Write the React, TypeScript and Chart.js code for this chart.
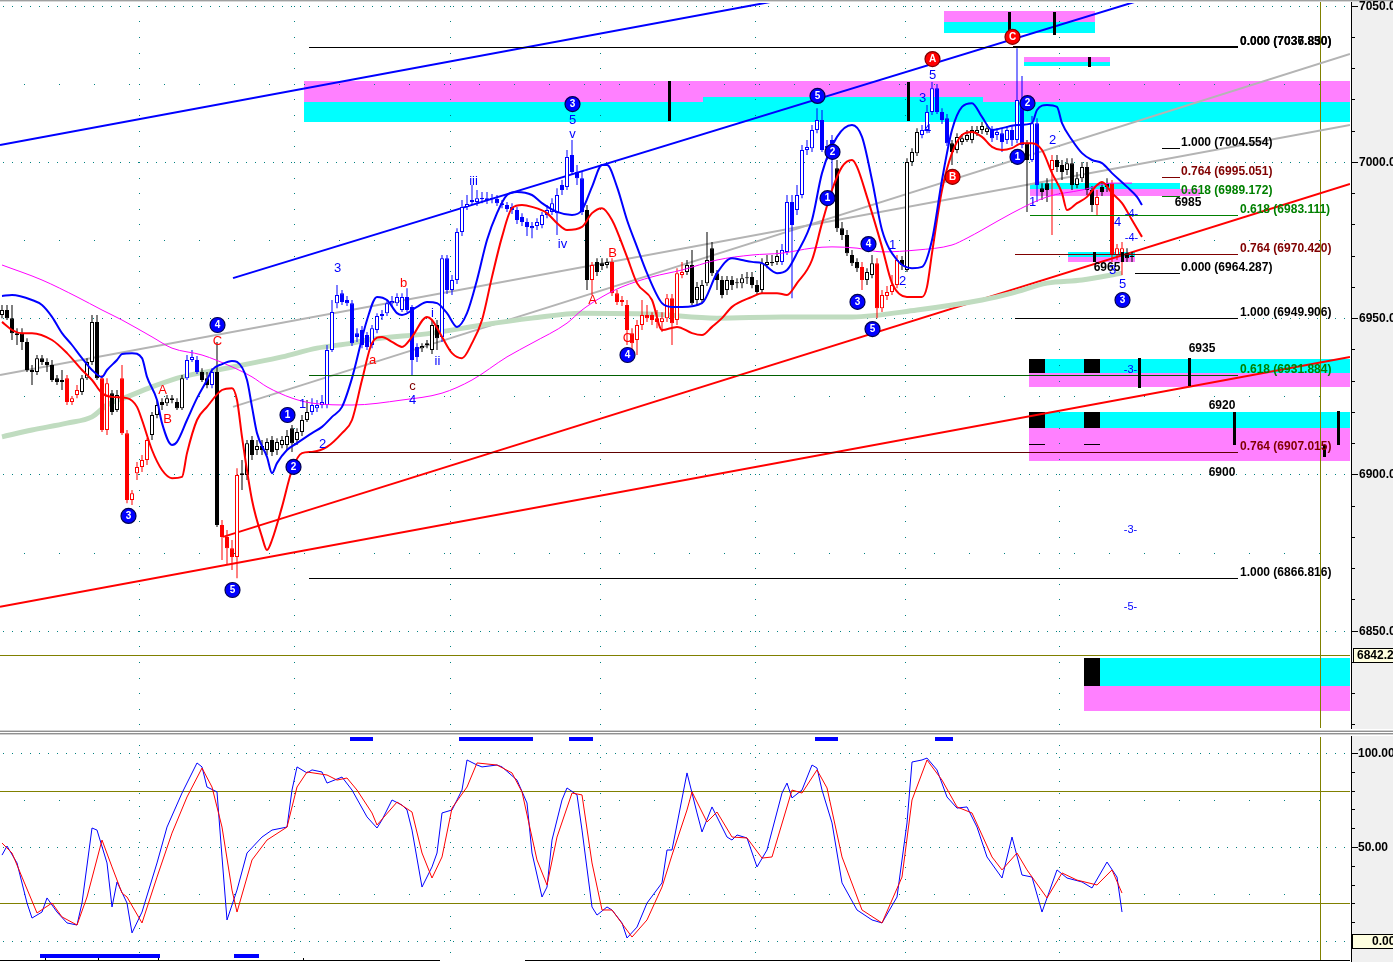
import React, { useEffect, useRef } from 'react';
import { Chart, registerables } from 'chart.js';

Chart.register(...registerables);

// ---------------- scale ranges ----------------
const X_MIN = -0.4;
const X_MAX = 269.6;
const P_MIN = 6818.84;
const P_MAX = 7050.84;
const S_MIN = -10.11;
const S_MAX = 108.51;

// ---------------- candles (OHLC) ----------------
const opens = [
  6951.0, 6952.6, 6950.0, 6945.2, 6945.2, 6942.4, 6933.4, 6932.8, 6937.2, 6936.0,
  6935.0, 6930.8, 6930.2, 6930.8, 6923.2, 6925.4, 6926.4, 6930.8, 6936.0, 6948.8,
  6930.8, 6914.2, 6926.0, 6920.6, 6930.8, 6913.2, 6891.8, 6900.4, 6902.4, 6904.6,
  6912.6, 6919.0, 6923.2, 6922.8, 6924.4, 6923.2, 6921.2, 6930.8, 6936.6, 6936.6,
  6932.8, 6930.8, 6928.6, 6932.8, 6883.8, 6880.0, 6876.4, 6873.6, 6899.8, 6899.8,
  6911.0, 6907.8, 6909.1, 6907.8, 6911.0, 6907.8, 6909.4, 6909.4, 6914.8, 6911.0,
  6913.6, 6917.4, 6920.0, 6921.2, 6922.2, 6922.2, 6939.8, 6954.8, 6958.0, 6955.8,
  6954.8, 6945.2, 6946.2, 6944.6, 6941.4, 6946.2, 6950.7, 6951.6, 6954.8, 6954.8,
  6952.6, 6956.8, 6953.6, 6940.8, 6940.4, 6941.4, 6939.8, 6947.8, 6944.0, 6969.2,
  6959.0, 6962.2, 6977.6, 6985.6, 6987.2, 6987.2, 6988.1, 6987.8, 6988.1, 6988.1,
  6986.8, 6986.2, 6985.6, 6984.6, 6982.4, 6980.8, 6979.5, 6979.5, 6979.8, 6983.0,
  6984.0, 6983.6, 6992.6, 6992.0, 7002.2, 6996.8, 6994.8, 6984.6, 6962.2, 6968.0,
  6967.6, 6967.0, 6968.0, 6958.0, 6955.8, 6954.2, 6945.2, 6943.0, 6947.8, 6951.0,
  6951.0, 6950.0, 6948.8, 6950.0, 6956.4, 6949.4, 6963.8, 6964.8, 6967.0, 6955.8,
  6955.8, 6961.2, 6972.4, 6964.4, 6962.2, 6959.0, 6962.2, 6961.2, 6961.2, 6962.8,
  6963.2, 6960.6, 6959.0, 6967.0, 6967.6, 6968.0, 6968.0, 6971.2, 6987.2, 6984.6,
  6989.4, 7003.8, 7004.4, 7010.2, 7013.4, 7004.4, 7007.0, 6998.0, 6978.8, 6976.6,
  6970.2, 6968.0, 6966.4, 6962.2, 6963.8, 6967.6, 6953.2, 6957.1, 6958.4, 6960.6,
  6968.6, 6965.4, 7000.0, 7002.8, 7008.6, 7010.2, 7016.0, 7023.6, 7016.0, 7014.0,
  7006.0, 7003.8, 7006.4, 7007.0, 7007.0, 7009.2, 7010.2, 7009.6, 7010.2, 7008.6,
  7009.2, 7007.0, 7010.2, 7007.0, 7019.8, 7006.0, 7000.6, 7012.4, 6991.6, 6993.2,
  6997.4, 7000.6, 6999.0, 6997.4, 6999.6, 6992.6, 6994.8, 6998.4, 6991.0, 6986.2,
  6992.0, 6993.2, 6993.2, 6970.2, 6970.2, 6970.8, 6969.6,
];
const closes = [
  6952.6, 6950.0, 6945.2, 6944.6, 6942.4, 6933.4, 6932.8, 6937.2, 6936.0, 6935.0,
  6930.2, 6929.6, 6929.6, 6923.2, 6924.4, 6927.0, 6930.8, 6936.0, 6948.8, 6930.8,
  6914.2, 6929.2, 6920.0, 6925.4, 6913.2, 6891.8, 6894.0, 6902.4, 6904.6, 6911.0,
  6919.0, 6922.2, 6922.2, 6924.4, 6923.8, 6921.2, 6930.8, 6936.6, 6937.6, 6932.8,
  6930.2, 6928.6, 6932.8, 6883.8, 6880.0, 6876.4, 6873.6, 6899.8, 6900.4, 6910.0,
  6906.2, 6909.1, 6907.8, 6910.4, 6907.2, 6910.4, 6911.0, 6912.3, 6910.0, 6913.6,
  6917.4, 6920.0, 6922.2, 6922.2, 6923.2, 6939.8, 6952.0, 6957.4, 6955.2, 6954.8,
  6942.0, 6944.0, 6941.4, 6940.8, 6946.8, 6950.7, 6951.3, 6954.8, 6955.5, 6956.8,
  6956.8, 6952.6, 6936.6, 6937.6, 6941.1, 6942.0, 6947.8, 6943.6, 6969.2, 6959.0,
  6962.2, 6977.6, 6985.6, 6986.5, 6987.8, 6988.4, 6988.4, 6988.4, 6988.1, 6986.8,
  6986.2, 6984.9, 6984.6, 6981.4, 6980.8, 6979.2, 6978.8, 6980.8, 6983.0, 6984.6,
  6986.8, 6989.4, 6991.0, 7001.6, 6996.8, 6994.8, 6984.0, 6962.2, 6967.0, 6964.8,
  6966.7, 6968.0, 6958.0, 6955.2, 6955.2, 6946.2, 6942.0, 6947.8, 6951.0, 6950.0,
  6949.4, 6948.8, 6950.0, 6956.4, 6948.4, 6964.4, 6964.8, 6967.0, 6954.8, 6960.0,
  6960.6, 6968.6, 6964.4, 6962.2, 6957.4, 6962.2, 6960.6, 6961.2, 6962.8, 6962.8,
  6960.6, 6958.4, 6967.6, 6968.0, 6968.0, 6969.9, 6971.8, 6987.2, 6979.8, 6989.4,
  7003.8, 7004.8, 7010.2, 7013.4, 7003.8, 7005.1, 7001.2, 6978.8, 6976.6, 6970.8,
  6967.6, 6966.0, 6962.2, 6964.8, 6967.6, 6953.2, 6957.4, 6958.4, 6960.6, 6968.6,
  6967.0, 7000.0, 7003.2, 7009.6, 7010.2, 7016.0, 7023.6, 7016.0, 7013.4, 7006.0,
  7003.2, 7008.0, 7007.6, 7008.6, 7010.2, 7010.2, 7011.5, 7010.8, 7007.6, 7009.6,
  7006.4, 7010.2, 7007.0, 7019.8, 7005.4, 7000.6, 7012.4, 6992.6, 6990.4, 6991.0,
  7000.6, 6998.4, 6996.8, 6999.6, 6992.6, 6994.8, 6998.4, 6991.0, 6986.2, 6988.8,
  6990.4, 6992.0, 6970.2, 6972.4, 6972.4, 6969.2, 6969.6,
];
const highs = [
  6954.2, 6954.2, 6954.2, 6946.8, 6946.8, 6943.6, 6935.0, 6938.2, 6938.2, 6937.2,
  6936.6, 6931.8, 6933.4, 6931.8, 6925.1, 6928.6, 6931.8, 6937.2, 6951.0, 6951.0,
  6931.8, 6930.8, 6927.0, 6927.0, 6935.0, 6914.2, 6895.0, 6904.0, 6906.2, 6911.6,
  6920.0, 6923.8, 6924.4, 6925.4, 6925.4, 6924.4, 6931.8, 6938.2, 6939.8, 6937.9,
  6934.0, 6932.8, 6934.0, 6942.4, 6885.4, 6882.2, 6879.0, 6902.0, 6904.6, 6911.0,
  6912.3, 6911.0, 6911.0, 6911.6, 6912.3, 6911.6, 6912.3, 6914.2, 6915.8, 6914.8,
  6919.0, 6923.8, 6924.4, 6923.8, 6925.4, 6941.4, 6955.8, 6960.6, 6959.0, 6957.1,
  6955.8, 6946.8, 6947.5, 6945.6, 6947.8, 6951.6, 6952.6, 6955.8, 6957.1, 6958.0,
  6958.0, 6959.6, 6954.2, 6942.0, 6942.0, 6943.0, 6949.4, 6949.4, 6970.2, 6970.2,
  6963.8, 6978.8, 6987.8, 6989.4, 6992.6, 6991.0, 6990.4, 6990.4, 6989.7, 6989.4,
  6987.8, 6987.2, 6986.8, 6985.6, 6983.6, 6982.0, 6980.8, 6982.0, 6984.0, 6986.2,
  6988.4, 6991.6, 6994.2, 7003.8, 7007.0, 6999.0, 6996.8, 6986.2, 6968.0, 6969.2,
  6969.2, 6969.2, 6969.2, 6959.0, 6957.1, 6955.8, 6946.8, 6949.4, 6955.8, 6954.2,
  6951.9, 6952.6, 6951.9, 6957.7, 6957.7, 6966.0, 6968.0, 6968.6, 6971.8, 6961.6,
  6962.2, 6977.6, 6974.4, 6965.4, 6963.5, 6963.5, 6963.5, 6962.8, 6964.1, 6964.8,
  6964.8, 6962.2, 6969.2, 6970.2, 6970.2, 6971.8, 6973.7, 6989.4, 6989.4, 6992.6,
  7005.4, 7007.0, 7011.8, 7017.2, 7016.6, 7007.0, 7008.6, 7000.6, 6980.8, 6978.2,
  6971.8, 6969.2, 6968.0, 6966.0, 6970.2, 6969.2, 6959.0, 6960.3, 6963.8, 6970.2,
  6969.9, 7001.2, 7004.4, 7010.8, 7011.8, 7018.2, 7025.6, 7024.9, 7017.2, 7015.3,
  7007.0, 7009.2, 7008.9, 7010.2, 7011.5, 7011.5, 7012.8, 7012.1, 7011.5, 7010.8,
  7010.8, 7011.5, 7011.8, 7036.4, 7027.5, 7007.0, 7014.7, 7014.0, 6993.2, 6994.8,
  7002.2, 7002.2, 7000.6, 7001.2, 7001.2, 6996.8, 7000.0, 7000.0, 6992.3, 6991.0,
  6993.6, 6994.8, 6994.2, 6973.7, 6974.4, 6972.4, 6971.2,
];
const lows = [
  6950.0, 6949.4, 6943.0, 6941.4, 6939.8, 6932.8, 6928.6, 6931.8, 6935.0, 6932.8,
  6929.6, 6928.6, 6927.0, 6922.2, 6922.2, 6924.4, 6925.4, 6930.2, 6935.0, 6930.2,
  6913.6, 6912.6, 6919.0, 6920.0, 6912.6, 6890.8, 6890.2, 6898.2, 6900.8, 6903.0,
  6911.0, 6918.0, 6920.6, 6921.9, 6922.8, 6920.6, 6920.6, 6930.2, 6936.0, 6932.1,
  6929.6, 6927.6, 6927.6, 6883.2, 6872.6, 6871.0, 6869.4, 6866.8, 6895.0, 6898.2,
  6904.6, 6906.2, 6906.2, 6906.2, 6905.9, 6906.2, 6908.4, 6907.8, 6907.2, 6909.4,
  6912.3, 6916.8, 6919.0, 6920.0, 6921.2, 6921.2, 6939.2, 6953.2, 6954.2, 6953.9,
  6941.1, 6942.4, 6940.4, 6939.8, 6940.4, 6945.2, 6949.4, 6950.7, 6953.9, 6953.9,
  6952.0, 6952.0, 6931.8, 6936.0, 6939.2, 6940.4, 6938.5, 6939.8, 6942.4, 6957.7,
  6957.4, 6960.9, 6976.3, 6984.6, 6986.2, 6985.9, 6986.8, 6986.5, 6986.8, 6985.9,
  6985.2, 6984.0, 6983.3, 6980.1, 6979.5, 6976.3, 6975.6, 6978.2, 6978.8, 6982.0,
  6983.0, 6976.6, 6989.4, 6991.0, 6995.8, 6992.6, 6983.0, 6959.0, 6957.4, 6963.5,
  6965.4, 6966.0, 6957.1, 6954.2, 6953.9, 6941.4, 6937.6, 6938.2, 6946.2, 6948.8,
  6947.8, 6946.8, 6945.6, 6948.8, 6941.4, 6947.8, 6962.8, 6963.8, 6954.2, 6954.2,
  6954.8, 6960.3, 6963.5, 6959.0, 6956.4, 6957.4, 6959.0, 6959.6, 6959.6, 6960.9,
  6959.6, 6957.4, 6958.0, 6966.0, 6966.7, 6967.0, 6967.0, 6970.2, 6956.4, 6983.0,
  6988.4, 7002.2, 7003.2, 7009.2, 7003.2, 7000.6, 6989.4, 6977.6, 6975.0, 6969.9,
  6966.7, 6964.8, 6959.0, 6960.6, 6962.8, 6950.0, 6952.0, 6955.8, 6957.4, 6959.6,
  6965.4, 6964.8, 6998.7, 7001.9, 7007.6, 7009.2, 7015.0, 7015.3, 7012.1, 7005.1,
  6999.0, 7002.8, 7005.4, 7006.4, 7006.0, 7008.3, 7008.9, 7008.6, 7006.4, 7007.0,
  7003.2, 7005.7, 7005.1, 7006.0, 7004.4, 6984.0, 7000.0, 6987.2, 6987.8, 6987.2,
  6976.6, 6996.8, 6994.2, 6995.8, 6991.0, 6991.6, 6993.6, 6989.4, 6984.0, 6983.0,
  6989.1, 6990.4, 6968.0, 6968.6, 6963.8, 6968.0, 6968.0,
];
// wave colouring of the candles: k = neutral, b = impulse (blue), r = correction (red)
const colorRuns: [string, number][] = [
  ['k', 13], ['r', 3], ['k', 4], ['r', 2], ['k', 2], ['r', 6], ['k', 7], ['b', 3], ['k', 2], ['b', 1],
  ['k', 1], ['r', 4], ['k', 14], ['b', 22], ['k', 4], ['b', 29], ['k', 1], ['r', 1], ['k', 3], ['r', 15],
  ['k', 19], ['b', 11], ['k', 5], ['r', 1], ['k', 2], ['r', 5], ['k', 4], ['b', 6], ['k', 8], ['b', 7],
  ['k', 1], ['b', 2], ['k', 2], ['r', 1], ['k', 8], ['r', 1], ['k', 2], ['r', 3], ['k', 2],
];

// ---------------- overlay curves [bar, price] ----------------
const bandUpper: [number, number][] = [
  [0, 6957.1], [2, 6957.4], [6, 6955.8], [8, 6954.2], [10, 6950.4], [12, 6945.2], [14, 6941.4], [16, 6937.2], [18, 6933.4], [20, 6931.2],
  [21, 6933.4], [23, 6936.6], [24, 6938.5], [26, 6938.8], [28, 6937.2], [29, 6931.2], [31, 6923.8], [32, 6916.4], [34, 6909.4], [35, 6910.4],
  [37, 6917.4], [39, 6924.4], [41, 6930.2], [42, 6933.4], [44, 6935.3], [46, 6936.3], [47, 6936.0], [49, 6930.2], [50, 6921.6], [51, 6913.2],
  [53, 6905.6], [54, 6900.4], [55, 6903.6], [57, 6907.8], [59, 6910.0], [62, 6913.2], [64, 6915.2], [66, 6918.4], [68, 6921.6], [70, 6930.8],
  [73, 6949.4], [75, 6956.8], [77, 6955.8], [79, 6951.6], [80, 6951.0], [83, 6953.6], [85, 6955.2], [87, 6954.8], [89, 6951.6], [91, 6947.2],
  [93, 6951.6], [95, 6962.2], [97, 6975.0], [99, 6983.6], [101, 6989.4], [103, 6990.4], [106, 6989.4], [108, 6986.8], [111, 6984.0], [114, 6983.0],
  [116, 6984.6], [118, 6992.0], [120, 6999.0], [121, 6999.0], [123, 6992.0], [125, 6981.4], [127, 6972.8], [129, 6964.4], [132, 6954.8], [134, 6953.6],
  [136, 6953.6], [140, 6954.8], [143, 6964.4], [146, 6969.2], [148, 6968.6], [150, 6968.0], [152, 6967.6], [155, 6964.4], [157, 6965.4], [159, 6970.8],
  [162, 6981.4], [164, 6996.4], [167, 7008.0], [170, 7011.8], [172, 7008.0], [174, 6994.2], [176, 6978.2], [179, 6968.6], [182, 6966.0], [184, 6966.4],
  [186, 6975.0], [188, 6994.2], [190, 7010.2], [192, 7017.6], [194, 7018.8], [196, 7014.4], [198, 7010.2], [200, 7010.8], [203, 7011.8], [206, 7012.4],
  [207, 7016.6], [209, 7018.2], [211, 7017.6], [212, 7012.4], [214, 7007.0], [216, 7002.8], [218, 7000.6], [220, 6999.6], [222, 6996.4], [225, 6992.0],
  [227, 6988.8], [228, 6986.2],
];
const bandLower: [number, number][] = [
  [0, 6948.8], [2, 6946.2], [4, 6945.2], [6, 6945.2], [10, 6943.0], [13, 6938.8], [16, 6933.4], [18, 6930.2], [20, 6926.0], [22, 6924.8],
  [25, 6924.4], [27, 6921.6], [28, 6917.4], [30, 6907.8], [32, 6901.4], [34, 6898.8], [36, 6899.2], [37, 6906.8], [39, 6917.4], [41, 6921.6],
  [44, 6927.0], [46, 6927.6], [47, 6923.8], [48, 6912.0], [50, 6891.8], [52, 6880.0], [53, 6875.8], [54, 6879.0], [56, 6889.6], [58, 6901.4],
  [60, 6906.8], [62, 6907.2], [65, 6908.8], [68, 6913.2], [70, 6917.4], [72, 6930.2], [74, 6942.0], [76, 6944.0], [78, 6942.4], [80, 6940.8],
  [82, 6944.0], [85, 6950.4], [86, 6949.4], [88, 6944.0], [90, 6938.8], [92, 6937.2], [94, 6942.0], [96, 6949.4], [98, 6963.2], [100, 6976.0],
  [102, 6985.2], [104, 6986.2], [106, 6985.6], [109, 6983.6], [111, 6980.4], [113, 6978.2], [116, 6979.2], [118, 6983.6], [120, 6985.2], [122, 6981.4],
  [125, 6969.6], [127, 6961.2], [130, 6955.8], [132, 6946.2], [135, 6947.2], [138, 6945.2], [140, 6944.6], [142, 6947.2], [144, 6950.0], [146, 6953.6],
  [150, 6956.8], [152, 6958.0], [155, 6958.0], [157, 6957.4], [159, 6961.2], [162, 6968.6], [164, 6980.4], [166, 6991.0], [168, 6998.4], [170, 7000.6],
  [171, 6998.4], [173, 6988.8], [176, 6972.8], [178, 6961.2], [181, 6956.8], [184, 6956.8], [185, 6960.0], [186, 6970.8], [188, 6991.0], [190, 7002.8],
  [192, 7008.6], [194, 7009.6], [196, 7008.0], [198, 7004.8], [200, 7003.8], [202, 7004.4], [204, 7006.0], [206, 7006.0], [208, 7003.8], [210, 6996.4],
  [212, 6990.0], [213, 6984.6], [215, 6986.8], [217, 6988.8], [219, 6992.6], [220, 6993.6], [222, 6990.0], [224, 6986.8], [226, 6981.4], [228, 6976.0],
];
const maMagenta: [number, number][] = [
  [0, 6967.0], [8, 6962.2], [15, 6956.8], [20, 6952.6], [24, 6949.4], [30, 6944.0], [34, 6940.4], [40, 6938.2], [46, 6934.4], [50, 6931.2],
  [53, 6928.0], [58, 6924.4], [62, 6922.8], [70, 6922.2], [80, 6923.8], [88, 6926.0], [94, 6930.2], [101, 6937.6], [106, 6942.0], [113, 6948.4],
  [116, 6952.6], [120, 6956.8], [124, 6960.0], [130, 6963.2], [136, 6965.4], [143, 6968.6], [150, 6970.2], [156, 6970.8], [162, 6972.4], [166, 6972.8],
  [171, 6972.4], [176, 6971.2], [183, 6971.8], [190, 6973.4], [193, 6975.6], [196, 6978.2], [202, 6983.6], [209, 6988.8], [216, 6991.0], [222, 6993.2],
  [226, 6993.2],
];
const maGreen: [number, number][] = [
  [0, 6912.0], [6, 6914.2], [13, 6916.4], [18, 6918.4], [21, 6922.2], [25, 6924.8], [30, 6928.0], [36, 6931.2], [43, 6933.4], [50, 6935.6],
  [56, 6937.6], [63, 6940.4], [70, 6942.0], [73, 6943.0], [86, 6945.2], [96, 6947.8], [106, 6950.0], [116, 6951.6], [130, 6951.3], [143, 6950.0],
  [156, 6950.4], [170, 6950.4], [183, 6952.6], [196, 6955.8], [202, 6958.0], [209, 6961.2], [216, 6962.2], [224, 6964.4],
];

// ---------------- stochastic [bar, value] ----------------
const stochK: [number, number][] = [
  [0, 45.7], [1, 50.5], [3, 41.5], [5, 20.2], [6, 12.2], [8, 15.4], [9, 22.9], [11, 15.4], [13, 9.6], [15, 8.5],
  [16, 20.2], [18, 60.1], [19, 59.0], [21, 41.5], [22, 18.1], [23, 31.4], [25, 20.2], [26, 4.3], [28, 15.4], [31, 41.5],
  [33, 60.6], [36, 78.7], [39, 94.7], [40, 92.6], [41, 81.9], [43, 79.3], [44, 44.7], [45, 11.2], [47, 27.1], [49, 46.8],
  [52, 55.3], [54, 59.0], [57, 60.6], [58, 80.3], [59, 92.6], [61, 89.4], [62, 91.0], [64, 89.9], [65, 84.0], [68, 87.2],
  [70, 80.3], [73, 66.0], [75, 60.1], [76, 64.4], [78, 75.0], [80, 72.3], [81, 69.7], [82, 59.0], [84, 28.7], [86, 39.4],
  [87, 46.8], [88, 68.1], [90, 69.7], [91, 75.0], [92, 80.3], [93, 96.3], [95, 93.6], [96, 92.6], [99, 93.6], [100, 92.6],
  [103, 85.6], [105, 73.4], [106, 46.8], [108, 23.4], [109, 28.7], [110, 53.7], [112, 75.0], [113, 81.4], [115, 77.7], [116, 59.0],
  [118, 18.1], [119, 13.8], [121, 18.1], [122, 16.5], [124, 9.6], [125, 1.6], [127, 7.4], [129, 20.2], [132, 30.9], [133, 48.4],
  [134, 48.4], [137, 89.4], [139, 68.1], [140, 58.0], [142, 71.3], [145, 55.3], [146, 53.7], [147, 56.4], [149, 54.8], [151, 39.4],
  [153, 48.4], [156, 78.7], [157, 84.0], [158, 76.1], [160, 80.3], [162, 93.6], [163, 92.0], [164, 80.3], [166, 62.8], [168, 30.9],
  [171, 16.5], [174, 11.2], [176, 9.6], [179, 23.4], [181, 62.8], [182, 95.2], [184, 96.3], [185, 97.3], [187, 91.0], [189, 76.6],
  [191, 70.7], [193, 71.3], [195, 60.6], [197, 44.7], [200, 33.5], [202, 55.3], [204, 35.1], [206, 34.0], [208, 15.4], [211, 37.8],
  [213, 33.5], [216, 31.4], [218, 28.2], [221, 42.0], [223, 34.0], [224, 15.4],
];
const stochD: [number, number][] = [
  [0, 52.1], [2, 46.8], [4, 34.0], [7, 14.9], [10, 20.2], [12, 12.8], [15, 8.5], [17, 23.4], [20, 53.7], [22, 39.4],
  [24, 25.5], [25, 23.4], [28, 9.6], [31, 34.0], [34, 57.4], [37, 76.6], [40, 92.0], [42, 81.9], [44, 60.6], [46, 27.1],
  [47, 15.4], [50, 43.1], [53, 53.7], [57, 60.6], [59, 81.9], [61, 89.9], [65, 88.3], [67, 85.6], [69, 86.7], [71, 80.3],
  [74, 68.1], [75, 61.7], [79, 73.9], [82, 68.6], [84, 46.8], [86, 33.5], [88, 44.7], [90, 70.7], [93, 81.9], [95, 94.7],
  [99, 93.6], [102, 89.4], [104, 79.3], [107, 43.1], [109, 29.8], [111, 55.3], [114, 78.7], [116, 77.7], [118, 41.5], [120, 16.5],
  [122, 16.5], [126, 2.1], [129, 11.2], [132, 28.7], [134, 45.7], [137, 69.7], [138, 79.3], [141, 63.3], [143, 68.6], [146, 55.3],
  [149, 54.8], [152, 44.1], [154, 44.7], [158, 80.3], [160, 78.7], [163, 91.0], [165, 81.4], [168, 44.7], [172, 16.5], [176, 9.6],
  [180, 34.0], [182, 75.0], [185, 96.3], [188, 85.6], [191, 71.3], [194, 68.1], [198, 44.7], [200, 37.8], [203, 46.8], [205, 37.8],
  [209, 22.9], [212, 36.2], [215, 32.4], [219, 29.8], [222, 37.8], [224, 25.5],
];
const stochHighRuns: [number, number][] = [[69.6, 74.2], [91.4, 106.2], [113.4, 118.2], [162.6, 167.2], [186.6, 190.2]];
const stochLowRuns: [number, number][] = [[7.6, 31.6], [46.4, 51.4]];

// ---------------- axes / grid ----------------
const priceTicks = [6850, 6900, 6950, 7000, 7050];
const gridDense = [6850, 6900, 6950, 7000, 7050];
const gridSparse = [6875, 6925, 6975, 7025];
const gridBars = [27.4, 58.4, 89.6, 119.6, 150.6, 180.6, 211.4];
const stochTicks = [100, 50];
const lastPrice = 6842.2;
const cursorBar = 263.6;

// ---------------- drawings ----------------
// trend lines: [bar0, price0, bar1, price1, colour]
const trendLines: [number, number, number, number, string][] = [
  [-0.4, 6931.8, 269.6, 7011.8, '#b4b4b4'],
  [46.2, 6921.6, 269.6, 7034.5, '#b4b4b4'],
  [-0.4, 7005.4, 155.8, 7051.8, '#0000ff'],
  [46.2, 6962.8, 227.8, 7051.8, '#0000ff'],
  [-0.4, 6857.6, 269.6, 6937.6, '#ff0000'],
  [44.2, 6880.0, 269.6, 6992.9, '#ff0000'],
];
// zones: [bar0, bar1, priceTop, priceBottom, kind]
const zones: [number, number, number, number, string][] = [
  [188.4, 218.6, 7048.3, 7044.8, 'M'], [188.4, 218.6, 7044.8, 7041.2, 'C'],
  [60.4, 269.6, 7025.9, 7019.2, 'M'], [60.4, 269.6, 7019.2, 7012.8, 'C'], [140.2, 196.2, 7020.8, 7019.2, 'C'],
  [204.4, 221.6, 7033.6, 7032.0, 'M'], [204.4, 221.6, 7032.0, 7030.7, 'C'],
  [205.6, 235.6, 6993.2, 6991.3, 'C'], [205.6, 239.6, 6991.3, 6989.1, 'M'],
  [213.2, 226.6, 6971.2, 6969.6, 'C'], [213.2, 226.6, 6969.6, 6968.0, 'M'],
  [205.4, 269.6, 6936.9, 6932.4, 'C'], [205.4, 269.6, 6932.4, 6928.0, 'M'],
  [205.4, 208.6, 6936.9, 6932.4, 'K'], [216.4, 219.6, 6936.9, 6932.4, 'K'],
  [205.4, 269.6, 6920.0, 6914.8, 'C'], [205.4, 269.6, 6914.8, 6904.3, 'M'],
  [205.4, 208.6, 6920.0, 6914.8, 'K'], [216.4, 219.6, 6920.0, 6914.8, 'K'],
  [216.4, 269.6, 6841.2, 6832.3, 'C'], [216.4, 269.6, 6832.3, 6824.3, 'M'], [216.4, 219.6, 6841.2, 6832.3, 'K'],
];
// vertical black markers: [bar, priceTop, priceBottom]
const markers: [number, number, number][] = [
  [201.4, 7048.0, 7041.2], [210.4, 7048.0, 7040.6], [133.4, 7025.9, 7013.1], [181.2, 7025.6, 7013.1],
  [217.4, 7033.6, 7030.4], [227.4, 6937.2, 6927.6], [237.4, 6937.2, 6928.3], [246.4, 6920.0, 6909.4],
  [267.2, 6920.3, 6909.4], [264.4, 6909.4, 6905.6], [218.4, 6971.2, 6968.0], [224.0, 6971.2, 6968.0],
];
// fibonacci segments: [price, bar0, bar1, colour, width]
const fibSegments: [number, number, number, string, number][] = [
  [7036.85, 61.4, 202.2, '#000000', 1], [7036.85, 202.2, 247.2, '#000000', 2],
  [7004.554, 232.0, 235.6, '#000000', 1], [6995.051, 232.0, 235.6, '#800000', 1], [6989.172, 232.0, 235.6, '#008000', 1],
  [6983.111, 205.6, 247.2, '#008000', 1], [6970.42, 202.6, 247.2, '#800000', 1], [6964.287, 226.6, 235.6, '#000000', 1],
  [6949.906, 202.6, 247.2, '#000000', 1], [6931.884, 61.4, 247.2, '#006000', 1], [6907.015, 61.4, 247.2, '#600000', 1],
  [6866.816, 61.4, 247.2, '#000000', 1], [6909.7, 205.4, 208.6, '#000000', 1], [6909.7, 216.4, 219.6, '#000000', 1],
];
// fibonacci labels: [price, bar, text, colour]
const fibLabels: [number, number, string, string][] = [
  [7036.85, 247.6, '0.000 (7036.850)', '#000000'], [7036.85, 247.6, '0.000 (7037.830)', '#000000'],
  [7004.554, 235.8, '1.000 (7004.554)', '#000000'], [6995.051, 235.8, '0.764 (6995.051)', '#800000'],
  [6989.172, 235.8, '0.618 (6989.172)', '#008000'], [6983.111, 247.6, '0.618 (6983.111)', '#008000'],
  [6970.42, 247.6, '0.764 (6970.420)', '#800000'], [6964.287, 235.8, '0.000 (6964.287)', '#000000'],
  [6949.906, 247.6, '1.000 (6949.906)', '#000000'], [6931.884, 247.6, '0.618 (6931.884)', '#008000'],
  [6907.015, 247.6, '0.764 (6907.015)', '#800000'], [6866.816, 247.6, '1.000 (6866.816)', '#000000'],
];
const blueCircles: [number, number, string][] = [
  [114.1, 7018.5, '3'], [163.1, 7021.1, '5'], [43.1, 6947.8, '4'], [25.3, 6886.7, '3'], [46.1, 6863.0, '5'],
  [57.1, 6919.0, '1'], [58.3, 6902.4, '2'], [166.1, 7003.2, '2'], [165.1, 6988.4, '1'], [173.3, 6973.7, '4'],
  [171.1, 6955.2, '3'], [174.1, 6946.5, '5'], [125.1, 6938.2, '4'], [203.1, 7001.6, '1'], [205.1, 7018.8, '2'],
  [224.1, 6955.8, '3'],
];
const redCircles: [number, number, string][] = [[186.1, 7032.9, 'A'], [202.1, 7040.0, 'C'], [190.1, 6995.2, 'B']];
const blueTexts: [number, number, string][] = [
  [67.1, 6966.0, '3'], [60.1, 6922.5, '1'], [64.1, 6909.7, '2'], [82.1, 6923.8, '4'], [114.1, 7013.4, '5'],
  [114.1, 7008.9, 'v'], [94.3, 6993.9, 'iii'], [112.1, 6973.7, 'iv'], [86.1, 6951.6, 'i'], [87.1, 6936.0, 'ii'],
  [178.1, 6973.4, '1'], [180.1, 6961.6, '2'], [184.1, 7020.4, '3'], [185.1, 7010.5, '4'], [186.1, 7027.8, '5'],
  [210.1, 7007.0, '2'], [206.1, 6987.0, '1'], [224.1, 6960.9, '5'], [223.1, 6980.5, '4'], [222.1, 6965.4, '3'],
];
const smallBlueTexts: [number, number, string][] = [
  [225.9, 6983.3, '-4-'], [225.9, 6975.6, '-4-'], [225.7, 6933.4, '-3-'], [225.7, 6882.2, '-3-'], [225.7, 6857.6, '-5-'],
];
const redTexts: [number, number, string][] = [
  [32.1, 6927.0, 'A'], [33.1, 6917.7, 'B'], [43.1, 6942.4, 'C'], [74.1, 6936.6, 'a'], [80.3, 6961.2, 'b'],
  [118.1, 6955.8, 'A'], [122.1, 6970.8, 'B'], [125.1, 6943.6, 'C'],
];
const darkTexts: [number, number, string][] = [[82.1, 6928.3, 'c']];
const blackTexts: [number, number, string][] = [
  [237.2, 6986.8, '6985'], [240.0, 6940.1, '6935'], [244.0, 6921.9, '6920'], [244.0, 6900.4, '6900'], [221.0, 6966.0, '6965'],
];

const COLORS: Record<string, string> = { k: '#000000', b: '#0000ff', r: '#ff0000' };
const ZONE_COLORS: Record<string, string> = { M: '#ff80ff', C: '#00ffff', K: '#000000' };
const FONT_BOLD = 'bold 12px "Liberation Sans", Arial, sans-serif';
const FONT_WAVE = '13px "Liberation Sans", Arial, sans-serif';
const FONT_SMALL = '11px "Liberation Sans", Arial, sans-serif';
const FONT_CIRC = 'bold 10px "Liberation Sans", Arial, sans-serif';

function expandRuns(runs: [string, number][]) {
  const out: string[] = [];
  runs.forEach(([c, n]) => { for (let k = 0; k < n; k++) out.push(c); });
  return out;
}

function clipTo(ctx: any, a: any) {
  ctx.beginPath();
  ctx.rect(a.left, a.top, a.right - a.left, a.bottom - a.top);
  ctx.clip();
}

function text(ctx: any, s: string, x: number, y: number, color: string, font: string, align = 'center', base = 'middle') {
  ctx.font = font;
  ctx.fillStyle = color;
  ctx.textAlign = align;
  ctx.textBaseline = base;
  ctx.fillText(s, x, y);
}

function circle(ctx: any, x: number, y: number, fill: string, stroke: string, label: string) {
  ctx.beginPath();
  ctx.arc(x, y, 7.5, 0, Math.PI * 2);
  ctx.fillStyle = fill;
  ctx.fill();
  ctx.lineWidth = 1.2;
  ctx.strokeStyle = stroke;
  ctx.stroke();
  text(ctx, label, x, y + 0.5, '#ffffff', FONT_CIRC);
}

const mainPlugin = {
  id: 'mainDecor',
  beforeDatasetsDraw(chart: any) {
    const { ctx, chartArea: a } = chart;
    const xs = chart.scales.x;
    const ys = chart.scales.y;
    const X = (v: number) => xs.getPixelForValue(v);
    const Y = (v: number) => ys.getPixelForValue(v);
    ctx.save();
    clipTo(ctx, a);
    zones.forEach(([i0, i1, p0, p1, k]) => {
      const xa = Math.round(X(i0));
      const xb = Math.round(X(i1));
      const ya = Math.round(Y(p0));
      const yb = Math.round(Y(p1));
      ctx.fillStyle = ZONE_COLORS[k];
      ctx.fillRect(xa, ya, xb - xa, yb - ya);
    });
    ctx.fillStyle = '#008080';
    gridDense.forEach((p) => {
      const yy = Math.round(Y(p));
      for (let xx = 3; xx < a.right; xx += 9) ctx.fillRect(xx, yy, 1, 1);
    });
    gridSparse.forEach((p) => {
      const yy = Math.round(Y(p));
      for (let xx = 24; xx < a.right; xx += 35) ctx.fillRect(xx, yy, 1, 1);
    });
    gridBars.forEach((b) => {
      const xx = Math.round(X(b));
      for (let p = 6820; p <= 7050; p += 5) ctx.fillRect(xx, Math.round(Y(p)), 1, 1);
    });
    ctx.fillStyle = '#808000';
    ctx.fillRect(a.left, Math.round(Y(lastPrice)), a.right - a.left, 1);
    ctx.fillRect(Math.round(X(cursorBar)), a.top, 1, a.bottom - a.top);
    ctx.lineWidth = 2;
    trendLines.forEach(([i0, p0, i1, p1, col]) => {
      ctx.strokeStyle = col;
      ctx.beginPath();
      ctx.moveTo(X(i0), Y(p0));
      ctx.lineTo(X(i1), Y(p1));
      ctx.stroke();
    });
    ctx.restore();
  },
  afterDatasetsDraw(chart: any) {
    const { ctx, chartArea: a } = chart;
    const xs = chart.scales.x;
    const ys = chart.scales.y;
    const X = (v: number) => xs.getPixelForValue(v);
    const Y = (v: number) => ys.getPixelForValue(v);
    ctx.save();
    clipTo(ctx, a);
    fibSegments.forEach(([p, i0, i1, col, w]) => {
      const yy = Math.round(Y(p));
      ctx.fillStyle = col;
      ctx.fillRect(Math.round(X(i0)), yy - (w > 1 ? 1 : 0), Math.round(X(i1)) - Math.round(X(i0)), w);
    });
    markers.forEach(([b, p0, p1]) => {
      const ya = Math.round(Y(p0));
      const yb = Math.round(Y(p1));
      ctx.fillStyle = '#000000';
      ctx.fillRect(Math.round(X(b)) - 1, ya, 3, yb - ya);
    });
    fibLabels.forEach(([p, b, s, col]) => {
      text(ctx, s, X(b), Math.round(Y(p)) - 2, col, FONT_BOLD, 'left', 'alphabetic');
    });
    blackTexts.forEach(([b, p, s]) => text(ctx, s, X(b), Y(p), '#000000', FONT_BOLD));
    blueTexts.forEach(([b, p, s]) => text(ctx, s, X(b), Y(p), '#0000ff', FONT_WAVE));
    smallBlueTexts.forEach(([b, p, s]) => text(ctx, s, X(b), Y(p), '#0000ff', FONT_SMALL));
    redTexts.forEach(([b, p, s]) => text(ctx, s, X(b), Y(p), '#ff0000', FONT_WAVE));
    darkTexts.forEach(([b, p, s]) => text(ctx, s, X(b), Y(p), '#800000', FONT_WAVE));
    blueCircles.forEach(([b, p, s]) => circle(ctx, X(b), Y(p), '#0000ff', '#000050', s));
    redCircles.forEach(([b, p, s]) => circle(ctx, X(b), Y(p), '#ff0000', '#800000', s));
    ctx.restore();
  },
  afterDraw(chart: any) {
    const { ctx, chartArea: a } = chart;
    const ys = chart.scales.y;
    const xs = chart.scales.x;
    const Y = (v: number) => ys.getPixelForValue(v);
    const W = chart.width;
    ctx.save();
    // frame
    ctx.fillStyle = '#a0a0a0';
    ctx.fillRect(0, 0, W, 1);
    ctx.fillStyle = '#d8d8d8';
    ctx.fillRect(0, 1, W, 1);
    ctx.fillStyle = '#ffffff';
    ctx.fillRect(0, a.bottom, W, chart.height - a.bottom);
    ctx.fillStyle = '#d0d0d0';
    ctx.fillRect(0, chart.height - 3, W, 1);
    ctx.fillStyle = '#909090';
    ctx.fillRect(0, chart.height - 2, W, 1);
    // axis panel
    const ax = Math.round(a.right) + 1;
    ctx.fillStyle = '#f0f0f0';
    ctx.fillRect(ax, 2, W - ax, a.bottom - 1);
    ctx.fillStyle = '#000000';
    ctx.fillRect(ax, 2, 1, a.bottom - 1);
    // cursor line also crosses nothing here; minor ticks
    for (let p = 6820; p <= 7050; p += 10) {
      const yy = Math.round(Y(p));
      if (yy > 2 && yy < a.bottom) ctx.fillRect(ax + 1, yy, 3, 1);
    }
    priceTicks.forEach((p) => {
      const yy = Math.round(Y(p));
      ctx.fillStyle = '#000000';
      ctx.fillRect(ax + 1, yy, 6, 1);
      text(ctx, p.toFixed(1), ax + 8, yy + 1, '#000000', FONT_BOLD, 'left', 'middle');
    });
    // last price box
    const ly = Math.round(Y(lastPrice));
    ctx.fillStyle = '#ffffe0';
    ctx.fillRect(ax + 2, ly - 7, W - ax - 2, 15);
    ctx.strokeStyle = '#000000';
    ctx.lineWidth = 1;
    ctx.strokeRect(ax + 2.5, ly - 6.5, W - ax - 2, 14);
    text(ctx, lastPrice.toFixed(1), ax + 6, ly + 1, '#000000', FONT_BOLD, 'left', 'middle');
    // olive cursor through whole height
    ctx.fillStyle = '#808000';
    ctx.fillRect(Math.round(xs.getPixelForValue(cursorBar)), 2, 1, a.top);
    ctx.restore();
  },
};

const stoPlugin = {
  id: 'stoDecor',
  beforeDatasetsDraw(chart: any) {
    const { ctx, chartArea: a } = chart;
    const xs = chart.scales.x;
    const ys = chart.scales.y;
    const X = (v: number) => xs.getPixelForValue(v);
    const Y = (v: number) => ys.getPixelForValue(v);
    ctx.save();
    clipTo(ctx, a);
    ctx.fillStyle = '#008080';
    [0, 50, 100].forEach((v) => {
      const yy = Math.round(Y(v));
      for (let xx = 3; xx < a.right; xx += 9) ctx.fillRect(xx, yy, 1, 1);
    });
    [25, 75].forEach((v) => {
      const yy = Math.round(Y(v));
      for (let xx = 24; xx < a.right; xx += 35) ctx.fillRect(xx, yy, 1, 1);
    });
    gridBars.forEach((b) => {
      const xx = Math.round(X(b));
      for (let v = -6; v <= 108; v += 6.5) ctx.fillRect(xx, Math.round(Y(v)), 1, 1);
    });
    ctx.fillStyle = '#808000';
    [80, 20].forEach((v) => ctx.fillRect(a.left, Math.round(Y(v)), a.right - a.left, 1));
    ctx.fillRect(Math.round(X(cursorBar)), a.top, 1, a.bottom - a.top);
    ctx.fillStyle = '#0000ff';
    stochHighRuns.forEach(([b0, b1]) => {
      const xa = Math.round(X(b0));
      ctx.fillRect(xa, Math.round(Y(108.3)), Math.round(X(b1)) - xa, 4);
    });
    stochLowRuns.forEach(([b0, b1]) => {
      const xa = Math.round(X(b0));
      ctx.fillRect(xa, Math.round(Y(-7.0)), Math.round(X(b1)) - xa, 4);
    });
    ctx.restore();
  },
  afterDraw(chart: any) {
    const { ctx, chartArea: a } = chart;
    const ys = chart.scales.y;
    const Y = (v: number) => ys.getPixelForValue(v);
    const W = chart.width;
    ctx.save();
    ctx.fillStyle = '#909090';
    ctx.fillRect(0, 0, W, 1);
    ctx.fillStyle = '#d0d0d0';
    ctx.fillRect(0, 1, W, 1);
    const ax = Math.round(a.right) + 1;
    ctx.fillStyle = '#f0f0f0';
    ctx.fillRect(ax, 3, W - ax, chart.height - 3);
    ctx.fillStyle = '#000000';
    ctx.fillRect(ax, 3, 1, chart.height - 3);
    for (let v = 0; v <= 100; v += 10) {
      const yy = Math.round(Y(v));
      ctx.fillRect(ax + 1, yy, 3, 1);
    }
    stochTicks.forEach((v) => {
      const yy = Math.round(Y(v));
      ctx.fillStyle = '#000000';
      ctx.fillRect(ax + 1, yy, 6, 1);
      text(ctx, v.toFixed(2), ax + 7, yy + 1, '#000000', FONT_BOLD, 'left', 'middle');
    });
    const zy = Math.round(Y(0));
    ctx.fillStyle = '#ffffe0';
    ctx.fillRect(ax + 1, zy - 7, W - ax - 1, 15);
    ctx.strokeStyle = '#000000';
    ctx.lineWidth = 1;
    ctx.strokeRect(ax + 1.5, zy - 6.5, W - ax, 14);
    text(ctx, (0).toFixed(2), ax + 21, zy + 1, '#000000', FONT_BOLD, 'left', 'middle');
    // bottom border of the panel
    ctx.fillStyle = '#000000';
    const by = Math.round(a.bottom);
    ctx.fillRect(0, by, 440, 1);
    ctx.fillRect(525, by, Math.round(a.right) - 525, 1);
    [45, 98, 158, 303].forEach((x) => ctx.fillRect(x, by - 2, 1, 3));
    ctx.restore();
  },
};

function buildMain(): any {
  const colors = expandRuns(colorRuns);
  const n = Math.min(opens.length, closes.length, highs.length, lows.length, colors.length);
  const bodies: any[] = [];
  const wicks: any[] = [];
  const fill: string[] = [];
  const stroke: string[] = [];
  for (let i = 0; i < n; i++) {
    const c = COLORS[colors[i]];
    bodies.push({ x: i, y: [opens[i], closes[i]] });
    wicks.push({ x: i, y: [lows[i], highs[i]] });
    fill.push(closes[i] >= opens[i] ? '#ffffff' : c);
    stroke.push(c);
  }
  const xy = (arr: [number, number][]) => arr.map(([x, y]) => ({ x, y }));
  const line = (data: [number, number][], color: string, width: number, order: number) => ({
    type: 'line',
    data: xy(data),
    borderColor: color,
    borderWidth: width,
    pointRadius: 0,
    cubicInterpolationMode: 'monotone',
    fill: false,
    order,
  });
  return {
    type: 'bar',
    data: {
      datasets: [
        line(bandUpper, '#0000ff', 2, 0),
        line(bandLower, '#ff0000', 2, 0),
        line(maMagenta, '#ff00ff', 1, 0),
        {
          type: 'bar', data: bodies, backgroundColor: fill, borderColor: stroke, borderWidth: 1,
          borderSkipped: false, barThickness: 4, grouped: false, minBarLength: 1, inflateAmount: 0, order: 1,
        },
        {
          type: 'bar', data: wicks, backgroundColor: stroke, borderWidth: 0, barThickness: 1,
          grouped: false, inflateAmount: 0, order: 2,
        },
        line(maGreen, '#c0dcc0', 5, 3),
      ],
    },
    options: {
      animation: false,
      responsive: false,
      maintainAspectRatio: false,
      events: [],
      layout: { padding: { left: 0, right: 43, top: 3, bottom: 5 } },
      scales: {
        x: { type: 'linear', min: X_MIN, max: X_MAX, display: false, offset: false },
        y: { type: 'linear', min: P_MIN, max: P_MAX, display: false },
      },
      plugins: { legend: { display: false }, tooltip: { enabled: false } },
    },
    plugins: [mainPlugin],
  };
}

function buildStoch(): any {
  const xy = (arr: [number, number][]) => arr.map(([x, y]) => ({ x, y }));
  return {
    type: 'line',
    data: {
      datasets: [
        { data: xy(stochD), borderColor: '#ff0000', borderWidth: 1, pointRadius: 0, tension: 0, fill: false, order: 0 },
        { data: xy(stochK), borderColor: '#0000ff', borderWidth: 1, pointRadius: 0, tension: 0, fill: false, order: 1 },
      ],
    },
    options: {
      animation: false,
      responsive: false,
      maintainAspectRatio: false,
      events: [],
      layout: { padding: { left: 0, right: 43, top: 4, bottom: 2 } },
      scales: {
        x: { type: 'linear', min: X_MIN, max: X_MAX, display: false },
        y: { type: 'linear', min: S_MIN, max: S_MAX, display: false },
      },
      plugins: { legend: { display: false }, tooltip: { enabled: false } },
    },
    plugins: [stoPlugin],
  };
}

export default function App() {
  const mainRef = useRef<HTMLCanvasElement>(null);
  const stoRef = useRef<HTMLCanvasElement>(null);
  useEffect(() => {
    const c1 = new Chart(mainRef.current as HTMLCanvasElement, buildMain());
    const c2 = new Chart(stoRef.current as HTMLCanvasElement, buildStoch());
    return () => {
      c1.destroy();
      c2.destroy();
    };
  }, []);
  return (
    <div style={{ position: 'absolute', left: 0, top: 0, width: 1393, height: 962, background: '#ffffff', overflow: 'hidden' }}>
      <canvas ref={mainRef} width={1393} height={733} style={{ position: 'absolute', left: 0, top: 0, width: 1393, height: 733 }} />
      <canvas ref={stoRef} width={1393} height={229} style={{ position: 'absolute', left: 0, top: 733, width: 1393, height: 229 }} />
    </div>
  );
}
